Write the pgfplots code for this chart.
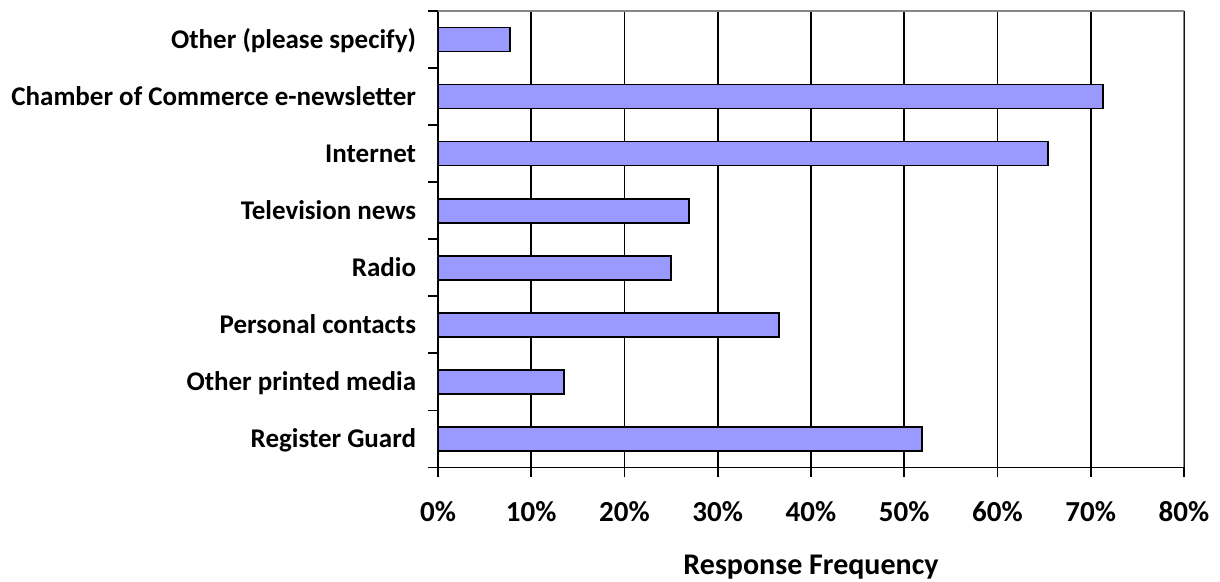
\documentclass[border=0pt]{standalone}
\usepackage{fontspec}
\setmainfont{Carlito}
\usepackage{pgfplots}
\pgfplotsset{compat=1.18}
\definecolor{barfill}{HTML}{9999FF}
\definecolor{frame}{HTML}{868686}

\begin{document}
\begin{tikzpicture}
    % page frame, 1 px of the reference = 0.5pt
    \useasboundingbox (-219pt,-57.25pt) rectangle (391pt,233.75pt);
    \begin{axis}
    [
        xbar,
        scale only axis,
        width=373pt, height=228.25pt,
        xmin=0, xmax=80,
        ymin=-0.5, ymax=7.5,
        bar width=12pt,
        axis x line*=bottom,
        axis y line*=left,
        axis line style={black, line width=0.9pt, -},
        xtick={0,10,...,80},
        xticklabels={0\%,10\%,20\%,30\%,40\%,50\%,60\%,70\%,80\%},
        ytick={0,...,7},
        yticklabels={Register Guard, Other printed media, Personal contacts, Radio,
            Television news, Internet, Chamber of Commerce e-newsletter, Other (please specify)},
        minor ytick={-0.5,0.5,...,7.5},
        tick align=outside,
        major tick length=4.75pt,
        minor tick length=4.75pt,
        major y tick style={draw=none},
        every tick/.style={black, line width=0.9pt},
        xmajorgrids,
        major x grid style={black, line width=0.9pt},
        yticklabel style={font=\bfseries\fontsize{13.5}{16}\selectfont,
            anchor=base east, inner sep=0pt, yshift=-4.4pt, xshift=-6pt},
        xticklabel style={font=\bfseries\fontsize{14.5}{17}\selectfont,
            anchor=base, yshift=-22.5pt},
        xlabel={Response Frequency},
        xlabel style={font=\bfseries\fontsize{15}{18}\selectfont,
            at={(axis description cs:0.5,0)}, anchor=base, yshift=-53.75pt},
    ]
    \addplot[fill=barfill, draw=black, line width=0.8pt] coordinates {
        (51.9,0) (13.5,1) (36.6,2) (25.0,3) (26.9,4) (65.4,5) (71.3,6) (7.7,7)
    };
    \draw[frame, line width=0.9pt] (rel axis cs:0,1) -- (rel axis cs:1,1) -- (rel axis cs:1,0);
    \end{axis}
\end{tikzpicture}
\end{document}
